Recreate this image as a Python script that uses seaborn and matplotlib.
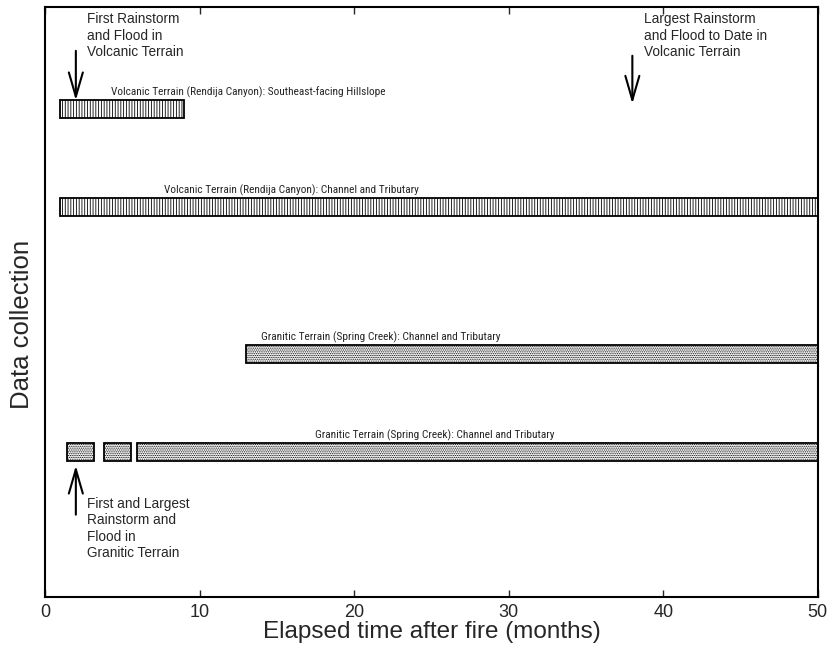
import matplotlib
matplotlib.use("Agg")
import matplotlib.pyplot as plt
import seaborn as sns
import pandas as pd

# data collection periods (months after fire)
row_ids = [1, 2, 3, 4, 4, 4]
starts = [1.0, 1.0, 13.0, 1.45, 3.8, 5.95]
ends = [9.0, 50.0, 50.0, 3.2, 5.6, 50.0]
terrain = ["Volcanic", "Volcanic", "Granitic", "Granitic", "Granitic", "Granitic"]

row_labels = [
    "Volcanic Terrain (Rendija Canyon): Southeast-facing Hillslope",
    "Volcanic Terrain (Rendija Canyon): Channel and Tributary",
    "Granitic Terrain (Spring Creek): Channel and Tributary",
    "Granitic Terrain (Spring Creek): Channel and Tributary",
]
row_label_x = [4.3, 7.7, 14.0, 17.5]

event_months = [2.0, 38.0, 2.0]
event_texts = [
    "First Rainstorm\nand Flood in\nVolcanic Terrain",
    "Largest Rainstorm\nand Flood to Date in\nVolcanic Terrain",
    "First and Largest\nRainstorm and\nFlood in\nGranitic Terrain",
]

df = pd.DataFrame({"row": row_ids, "start": starts, "end": ends, "terrain": terrain})
df["dur"] = df["end"] - df["start"]

sns.set_theme(style="ticks")
plt.rcParams["font.family"] = ["Liberation Sans", "DejaVu Sans"]
plt.rcParams["hatch.linewidth"] = 0.6
cond = ["Roboto Condensed", "Liberation Sans", "DejaVu Sans"]

fig = plt.figure(figsize=(8.32, 6.55), dpi=100)
ax = fig.add_axes([0.054, 0.0885, 0.929, 0.9005])

# row positions in axis units (top = 0)
row_y = {1: 1.0, 2: 2.0, 3: 3.5, 4: 4.5}
hatches = {"Volcanic": "||||||", "Granitic": "........."}

for _, r in df.iterrows():
    ax.barh(row_y[r["row"]], r["dur"], left=r["start"], height=0.18,
            facecolor="white", edgecolor="black", hatch=hatches[r["terrain"]],
            linewidth=1.3)

for i, lab in enumerate(row_labels):
    ax.text(row_label_x[i], row_y[i + 1] - 0.17, lab, fontsize=8.2, va="center",
            ha="left", family=cond)

arrow = dict(arrowstyle="->,head_length=1.45,head_width=0.42", lw=1.5,
             color="black", shrinkA=0, shrinkB=0)

# event arrows
ax.annotate("", xy=(event_months[0], 0.915), xytext=(event_months[0], 0.41), arrowprops=arrow)
ax.text(event_months[0] + 0.75, 0.015, event_texts[0], fontsize=9.8, va="top", ha="left",
        linespacing=1.22)

ax.annotate("", xy=(event_months[1], 0.95), xytext=(event_months[1], 0.46), arrowprops=arrow)
ax.text(event_months[1] + 0.75, 0.015, event_texts[1], fontsize=9.8, va="top", ha="left",
        linespacing=1.22)

ax.annotate("", xy=(event_months[2], 4.64), xytext=(event_months[2], 5.14), arrowprops=arrow)
ax.text(event_months[2] + 0.75, 4.96, event_texts[2], fontsize=9.8, va="top", ha="left",
        linespacing=1.22)

ax.set_xlim(0, 50)
ax.set_ylim(5.98, -0.035)
ax.set_xticks([0, 10, 20, 30, 40, 50])
ax.set_yticks([])
ax.tick_params(axis="x", direction="in", top=True, length=5, width=1, labelsize=13, pad=5)
for s in ax.spines.values():
    s.set_linewidth(1.5)
    s.set_color("black")

ax.set_xlabel("Elapsed time after fire (months)", fontsize=17.5, labelpad=0)
ax.set_ylabel("Data collection", fontsize=18.5)
ax.yaxis.set_label_coords(-0.014, 0.463)

fig.savefig("out.png", dpi=100)
